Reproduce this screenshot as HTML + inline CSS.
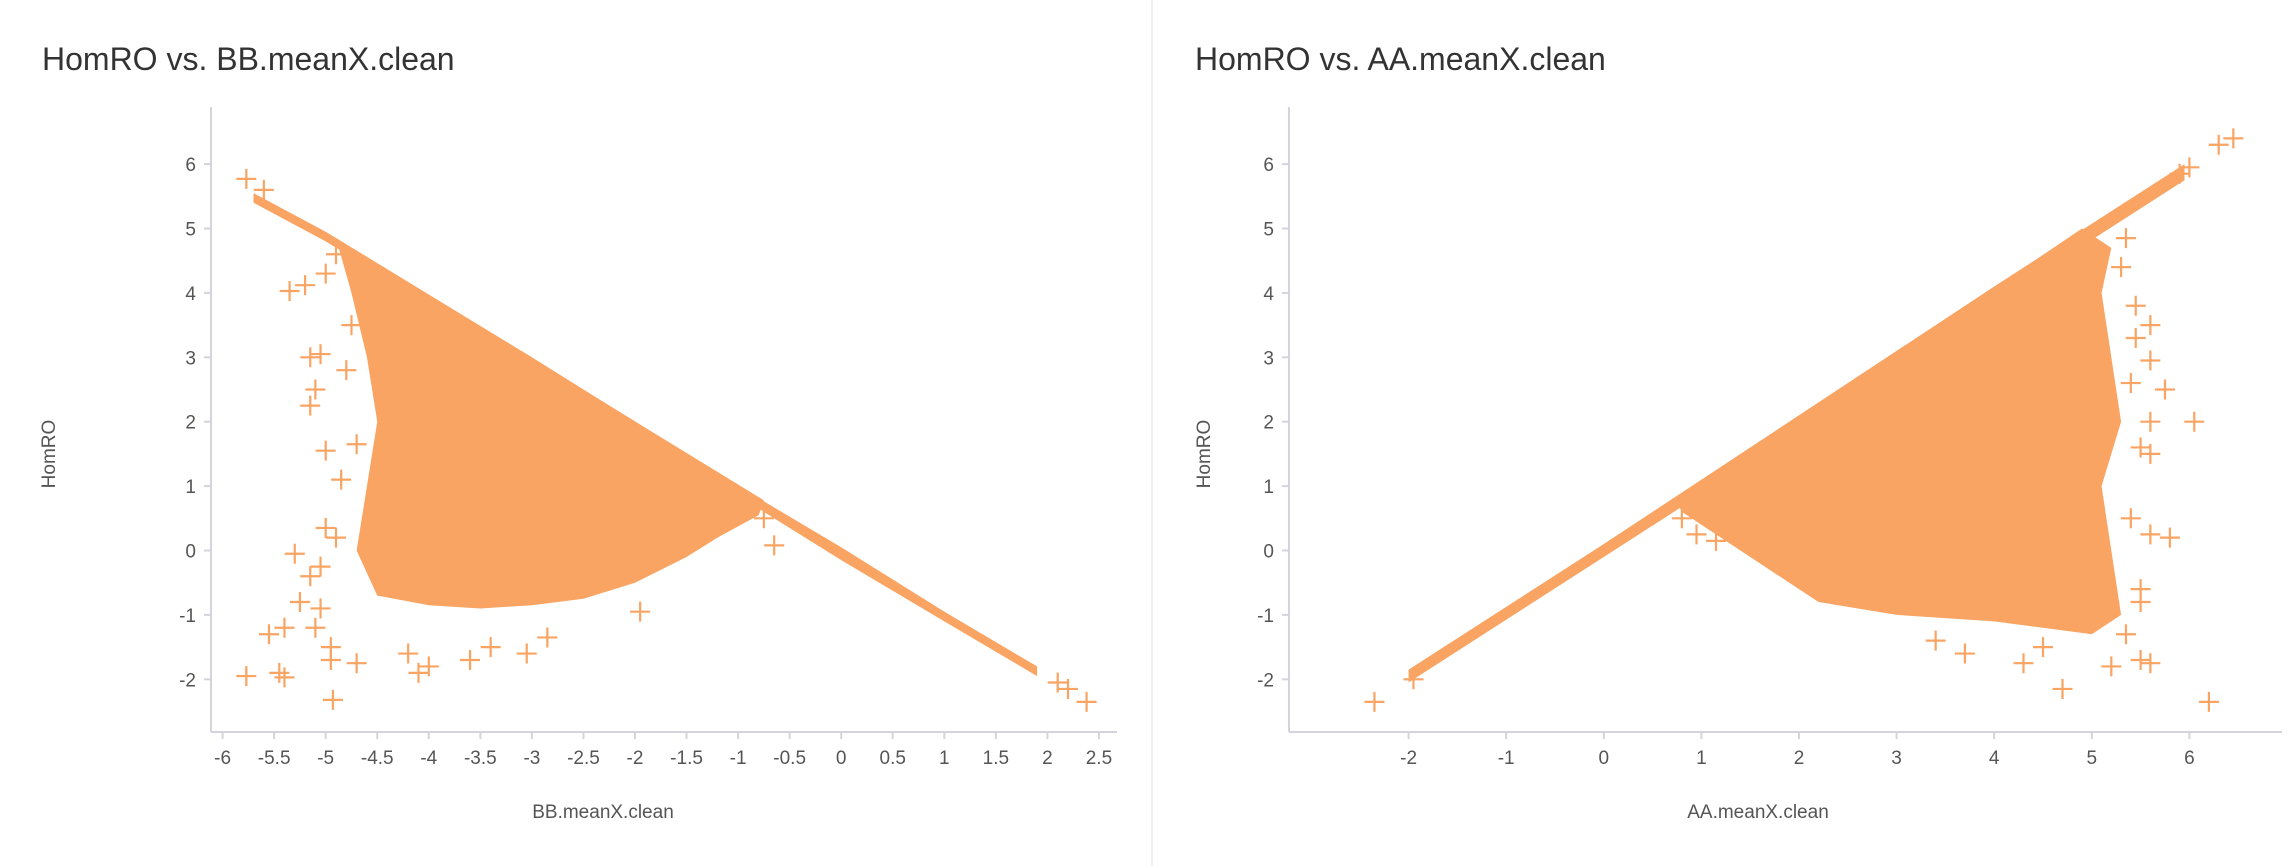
<!DOCTYPE html>
<html><head><meta charset="utf-8">
<style>
html,body{margin:0;padding:0;background:#fff;}
svg{display:block;font-family:"Liberation Sans",sans-serif;}
.tick{fill:#555;font-size:19px;}
.title{fill:#333;font-size:32px;}
.atitle{fill:#555;font-size:19px;}
</style></head>
<body>
<svg id="root" width="2296" height="866" viewBox="0 0 2296 866">
<line x1="1152" y1="0" x2="1152" y2="866" stroke="#eef0f4" stroke-width="2"/>
</svg>
<script>
// Left chart data (BB.meanX.clean vs HomRO)
const bbXTicks = [-6,-5.5,-5,-4.5,-4,-3.5,-3,-2.5,-2,-1.5,-1,-0.5,0,0.5,1,1.5,2,2.5];
const bbYTicks = [-2,-1,0,1,2,3,4,5,6];
const bbBandX = [-5.7,-5.0,-3.0,-1.0,0.0,1.0,1.9,1.9,1.0,0.0,-1.0,-3.0,-5.0,-5.7];
const bbBandY = [5.55,4.95,3.0,1.0,0.05,-0.95,-1.8,-1.95,-1.1,-0.15,0.85,2.85,4.8,5.4];
const bbDenseX = [-4.9,-0.75,-0.8,-1.2,-1.5,-2.0,-2.5,-3.0,-3.5,-4.0,-4.5,-4.7,-4.6,-4.5,-4.6,-4.75];
const bbDenseY = [4.85,0.78,0.55,0.2,-0.1,-0.5,-0.75,-0.85,-0.9,-0.85,-0.7,0.0,1.0,2.0,3.0,4.0];
const bbOutX = [-5.77,-5.6,-5.35,-5.2,-5.15,-5.05,-5.1,-5.15,-5.0,-4.85,-4.9,-5.0,-5.3,-5.15,-5.05,-5.25,-5.05,-5.1,-5.55,-5.4,-5.77,-5.45,-5.4,-4.93,-4.95,-4.95,-4.7,-4.1,-4.0,-3.6,-3.05,-2.85,-1.95,-0.65,-0.75,2.1,2.2,2.38,-4.2,-3.4,-5.0,-4.9,-4.75,-4.8,-4.7];
const bbOutY = [5.77,5.6,4.03,4.12,3.0,3.05,2.5,2.25,1.55,1.1,4.6,4.3,-0.05,-0.4,-0.25,-0.8,-0.9,-1.2,-1.3,-1.2,-1.95,-1.9,-1.97,-2.32,-1.5,-1.7,-1.75,-1.9,-1.8,-1.7,-1.6,-1.35,-0.95,0.08,0.5,-2.05,-2.15,-2.35,-1.6,-1.5,0.35,0.2,3.5,2.8,1.65];

// Right chart data (AA.meanX.clean vs HomRO)
const aaXTicks = [-2,-1,0,1,2,3,4,5,6];
const aaYTicks = [-2,-1,0,1,2,3,4,5,6];
const aaBandX = [-2.0,0.0,2.0,4.0,5.95,5.95,4.0,2.0,0.0,-2.0];
const aaBandY = [-1.85,0.1,2.1,4.1,6.0,5.75,3.85,1.85,-0.1,-2.05];
const aaDenseX = [0.75,4.9,5.2,5.1,5.2,5.3,5.1,5.2,5.3,5.0,4.5,4.0,3.0,2.2,1.8,1.2,0.8];
const aaDenseY = [0.75,5.0,4.7,4.0,3.0,2.0,1.0,0.0,-1.0,-1.3,-1.2,-1.1,-1.0,-0.8,-0.4,0.2,0.6];
const aaOutX = [6.45,6.3,6.0,5.9,5.35,5.3,5.6,5.45,5.6,5.75,6.05,5.6,5.5,5.6,5.8,5.6,5.4,4.7,6.2,3.7,4.3,-2.35,-1.95,0.8,0.95,1.15,5.5,5.6,5.2,5.35,3.4,4.5,5.5,5.5,5.4,5.45];
const aaOutY = [6.4,6.3,5.95,5.85,4.85,4.4,3.5,3.8,2.95,2.5,2.0,2.0,1.6,1.5,0.2,0.25,0.5,-2.15,-2.35,-1.6,-1.75,-2.35,-2.0,0.5,0.25,0.15,-1.7,-1.75,-1.8,-1.3,-1.4,-1.5,-0.8,-0.6,2.6,3.3];

const NS = 'http://www.w3.org/2000/svg';
const root = document.getElementById('root');
const ORANGE = '#f9a463';
function mk(tag, attrs, parent){ const e=document.createElementNS(NS,tag); for(const k in attrs) e.setAttribute(k,attrs[k]); (parent||root).appendChild(e); return e; }

function chart(cfg){
  const g = mk('g',{});
  
  
  const sx = v => cfg.x0px + (v - cfg.x0) * cfg.xs;
  const sy = v => cfg.y0px - (v - cfg.y0) * cfg.ys;
  const t = mk('text',{x:cfg.titleX,y:70,class:'title'},g); t.textContent=cfg.title;
  
  
  const ya = mk('line',{x1:cfg.ax,y1:107,x2:cfg.ax,y2:cfg.ay,stroke:'#d4d4de','stroke-width':2},g);
  
  
  const xa = mk('line',{x1:cfg.ax,y1:cfg.ay,x2:cfg.aend,y2:cfg.ay,stroke:'#d4d4de','stroke-width':2},g);
  
  
  cfg.xTicks.forEach(v=>{
    const x=sx(v);
    mk('line',{x1:x,y1:cfg.ay,x2:x,y2:cfg.ay+7,stroke:'#d4d4de','stroke-width':2},g);
    const tx=mk('text',{x:x,y:cfg.ay+32,'text-anchor':'middle',class:'tick'},g); tx.textContent=String(v);
    
    
  });
  cfg.yTicks.forEach(v=>{
    const y=sy(v);
    mk('line',{x1:cfg.ax-7,y1:y,x2:cfg.ax,y2:y,stroke:'#d4d4de','stroke-width':2},g);
    const ty=mk('text',{x:cfg.ax-15,y:y+7,'text-anchor':'end',class:'tick'},g); ty.textContent=String(v);
    
    
  });
  const xt=mk('text',{x:cfg.xTitleX,y:818,'text-anchor':'middle',class:'atitle'},g); xt.textContent=cfg.xTitle;
  
  
  const yt=mk('text',{x:0,y:0,'text-anchor':'middle',class:'atitle',transform:`translate(${cfg.yTitleX},454) rotate(-90)`},g); yt.textContent='HomRO';
  
  
  const band=mk('polygon',{points:cfg.bandX.map((x,i)=>sx(x)+','+sy(cfg.bandY[i])).join(' '),fill:ORANGE},g);
  
  
  const dense=mk('polygon',{points:cfg.denseX.map((x,i)=>sx(x)+','+sy(cfg.denseY[i])).join(' '),fill:ORANGE},g);
  
  
  cfg.outX.forEach((x,i)=>{
    const px=sx(x), py=sy(cfg.outY[i]);
    const p=mk('path',{d:`M${px-10},${py}H${px+10}M${px},${py-10}V${py+10}`,stroke:ORANGE,'stroke-width':2.2,fill:'none'},g);
    
    
  });
}

chart({name:'bb-scatter-chart',title:'HomRO vs. BB.meanX.clean',titleX:42,xTitle:'BB.meanX.clean',xTitleX:603,yTitleX:55,
  ax:211,ay:732,aend:1117,x0:-6,x0px:222.6,xs:103.1,y0:0,y0px:550.5,ys:64.4,
  xTicks:bbXTicks,yTicks:bbYTicks,bandX:bbBandX,bandY:bbBandY,denseX:bbDenseX,denseY:bbDenseY,outX:bbOutX,outY:bbOutY});
chart({name:'aa-scatter-chart',title:'HomRO vs. AA.meanX.clean',titleX:1195,xTitle:'AA.meanX.clean',xTitleX:1758,yTitleX:1210,
  ax:1289,ay:732,aend:2282,x0:-2,x0px:1408.6,xs:97.6,y0:0,y0px:550.5,ys:64.4,
  xTicks:aaXTicks,yTicks:aaYTicks,bandX:aaBandX,bandY:aaBandY,denseX:aaDenseX,denseY:aaDenseY,outX:aaOutX,outY:aaOutY});
</script>
</body></html>
